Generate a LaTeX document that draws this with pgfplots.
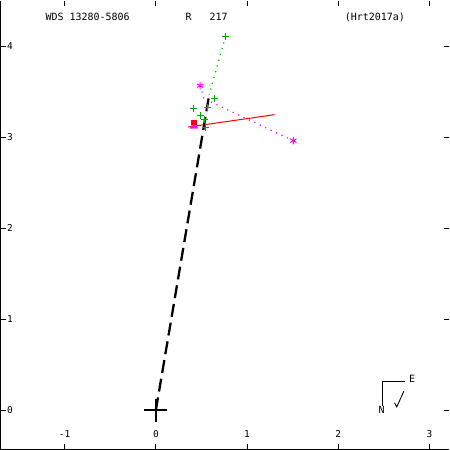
\documentclass[border=0pt]{standalone}
\usepackage{pgfplots}
\pgfplotsset{compat=1.18}
\usepackage{fontspec}
\setmainfont{DejaVu Sans Mono}
\definecolor{gpgreen}{RGB}{0,170,0}
\definecolor{gpmag}{RGB}{255,0,255}
\begin{document}
\begin{tikzpicture}
\begin{axis}[
  width=450pt, height=450pt, scale only axis,
  xmin=-1.703, xmax=3.22, ymin=-0.431, ymax=4.503,
  axis line style={draw=none},
  xtick={-1,0,1,2,3}, ytick={0,1,2,3,4},
  tick align=inside, major tick length=5pt,
  tick style={black, line width=0.8pt},
  /pgf/number format/assume math mode=true,
  ticklabel style={font=\fontsize{9.5}{10}\selectfont},
  xticklabel style={anchor=south, yshift=8pt},
  yticklabel style={anchor=west, xshift=3pt},
  clip=false,
]
\draw[black, line width=1.2pt] (rel axis cs:0,1) -- (rel axis cs:0,0) -- (rel axis cs:1,0);

% dotted connectors
\addplot[gpgreen, line width=1.2pt, dash pattern=on 1.2pt off 4.8pt] coordinates {(0.764,4.107) (0.585,3.47)};
\addplot[gpmag, line width=1.2pt, dash pattern=on 1.2pt off 4.8pt] coordinates {(0.486,3.567) (0.528,3.42)};
\addplot[gpmag, line width=1.2pt, dash pattern=on 1.2pt off 4.8pt] coordinates {(1.508,2.963) (0.60,3.39)};

% red line
\addplot[red, line width=1pt] coordinates {(0.354,3.113) (1.303,3.249)};

% black dashed orbit
\addplot[black, line width=2.3pt, dash pattern=on 13pt off 6pt] coordinates {(0,0) (0.583,3.454)};

% green pluses
\addplot[only marks, mark=+, gpgreen, mark size=3.6pt, line width=1pt] coordinates {
(0.764,4.107) (0.647,3.425) (0.417,3.315) (0.567,3.326) (0.494,3.24) (0.538,3.195) (0.549,3.107)};

% magenta asterisks
\addplot[only marks, mark=asterisk, gpmag, mark size=3.6pt, line width=1pt] coordinates {(0.486,3.567) (1.508,2.963)};

% magenta filled triangle
\addplot[only marks, mark=triangle*, gpmag, mark size=4.5pt] coordinates {(0.418,3.122)};
% red filled square
\addplot[only marks, mark=square*, red, mark size=2.2pt] coordinates {(0.413,3.165)};

% primary
\addplot[only marks, mark=+, black, mark size=11.5pt, line width=2.2pt] coordinates {(0,0)};

% header
\node[anchor=west, inner sep=0pt, font=\fontsize{10}{12}\selectfont] at (rel axis cs:0.1,0.963) {WDS 13280-5806};
\node[anchor=west, inner sep=0pt, font=\fontsize{10}{12}\selectfont] at (rel axis cs:0.4118,0.963) {R\ \ \ 217};
\node[anchor=west, inner sep=0pt, font=\fontsize{10}{12}\selectfont] at (rel axis cs:0.7667,0.963) {(Hrt2017a)};

% compass
\draw[black, line width=0.9pt] (axis cs:2.49,0.05) -- (axis cs:2.49,0.32) -- (axis cs:2.728,0.32);
\node[inner sep=0pt, font=\fontsize{10}{12}\selectfont] at (axis cs:2.81,0.342) {E};
\node[inner sep=0pt, font=\fontsize{10}{12}\selectfont] at (axis cs:2.476,0.0) {N};
\draw[black, line width=0.9pt] (axis cs:2.72,0.208) -- (axis cs:2.643,0.037) -- (axis cs:2.618,0.081);
\end{axis}
\end{tikzpicture}
\end{document}
